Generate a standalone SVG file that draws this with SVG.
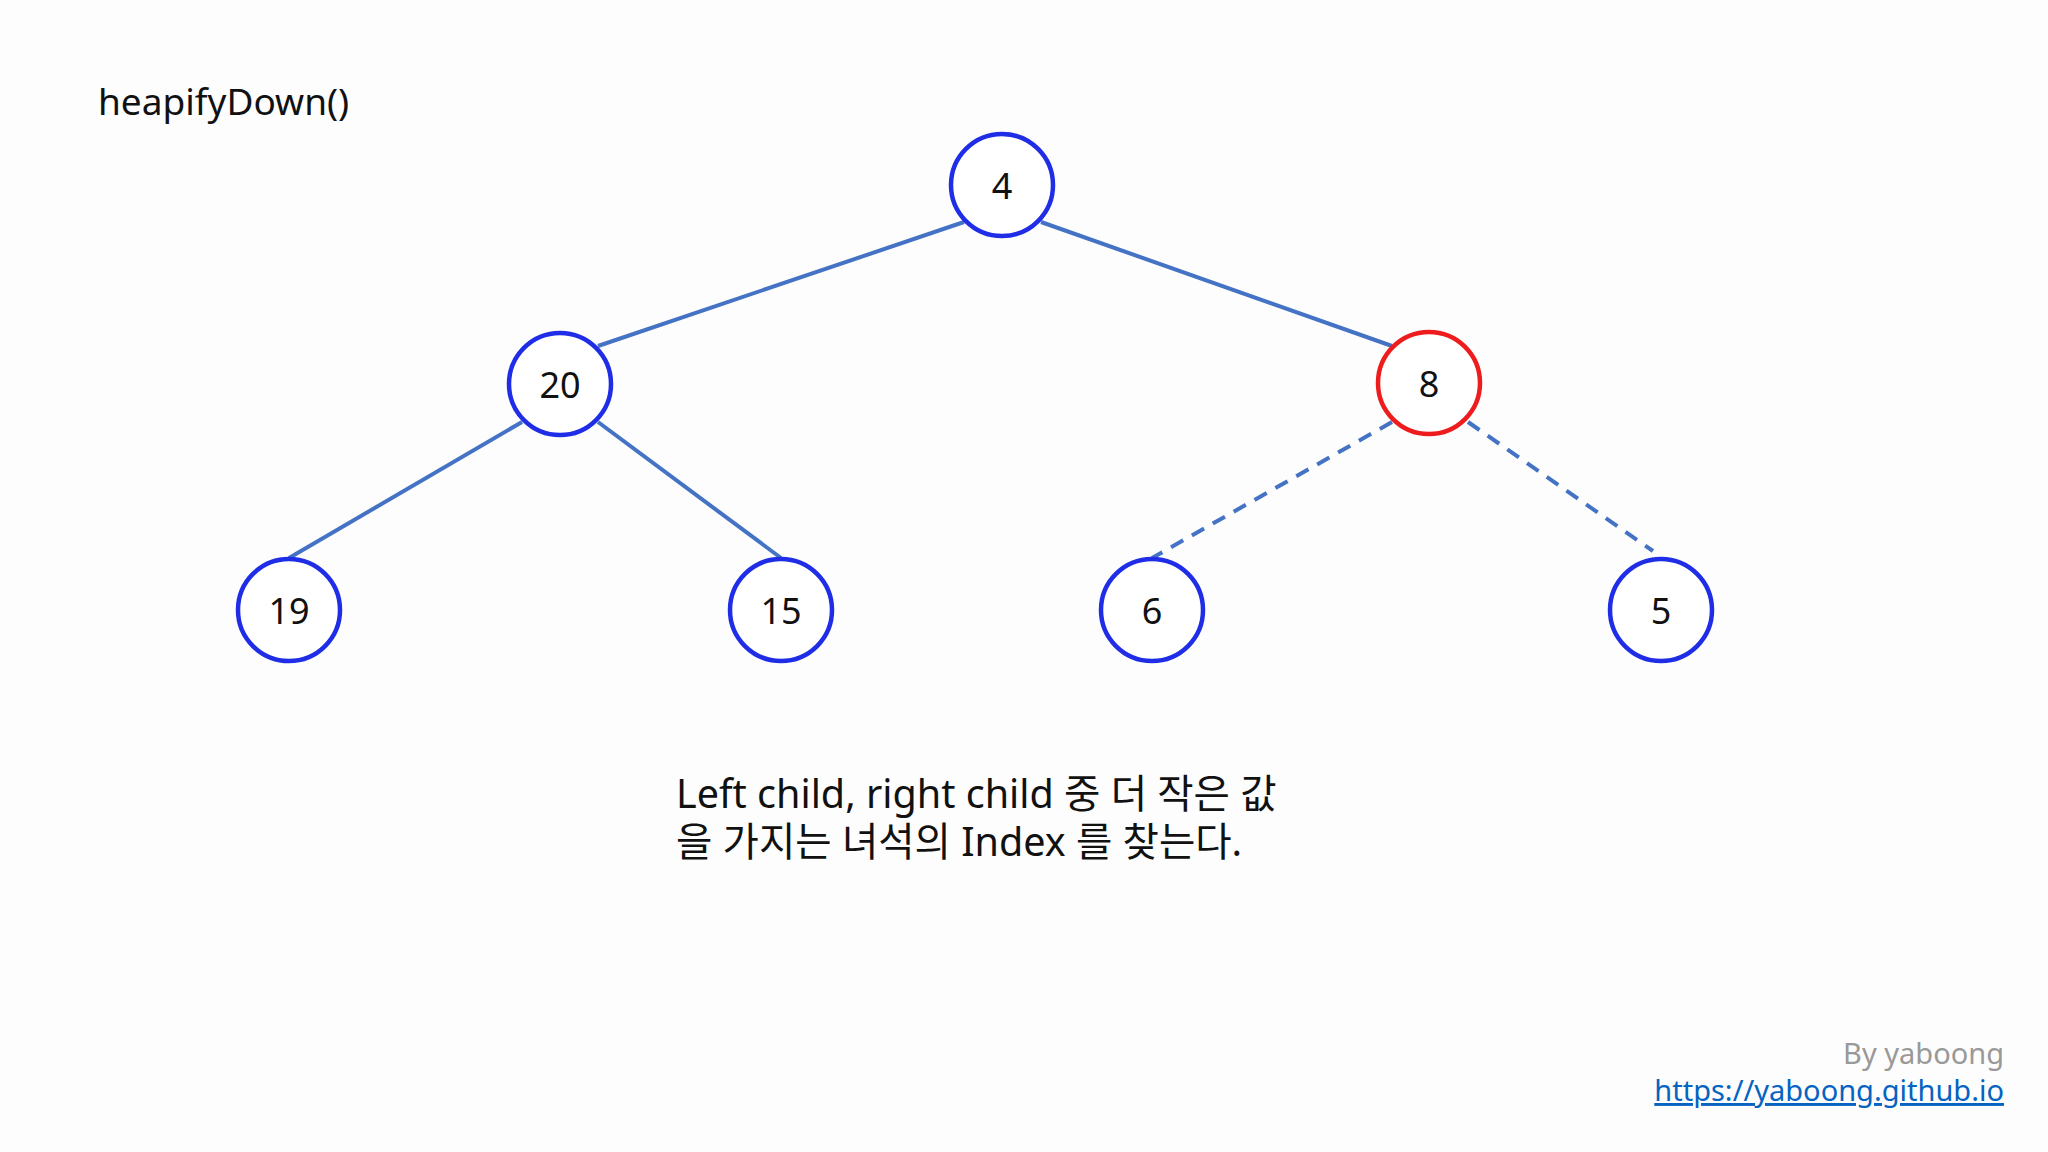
<svg xmlns="http://www.w3.org/2000/svg" width="2048" height="1152" viewBox="0 0 2048 1152">
<style>
.n{fill:#fff;stroke:#1f2ee6;stroke-width:4.5}
.r{stroke:#ee1c1c}
.t{font-family:"Noto Sans","Noto Sans CJK KR",sans-serif;font-size:36px;fill:#111;text-anchor:middle;dominant-baseline:central}
.e{stroke:#4472c4;stroke-width:4;fill:none}
.d{stroke-dasharray:14 10}
.c{font-family:"Noto Sans","Noto Sans CJK KR",sans-serif;font-size:39.5px;fill:#111}
</style>
<rect width="2048" height="1152" fill="#fdfdfd"/>
<text x="98" y="115" class="c" style="font-size:37px">heapifyDown()</text>
<g id="connectors">
<line class="e" x1="964" y1="222" x2="598" y2="346"/>
<line class="e" x1="1041" y1="222" x2="1392" y2="346"/>
<line class="e" x1="522" y1="422" x2="289" y2="558"/>
<line class="e" x1="598" y1="422" x2="781" y2="558"/>
<line class="e d" x1="1392" y1="422" x2="1152" y2="558"/>
<line class="e d" x1="1468" y1="422" x2="1653" y2="551"/>
</g>
<g id="n4"><circle class="n" cx="1002" cy="185" r="51"/><text class="t" x="1002" y="185">4</text></g>
<g id="n20"><circle class="n" cx="560" cy="384" r="51"/><text class="t" x="560" y="384">20</text></g>
<g id="n8"><circle class="n r" cx="1429" cy="383" r="51"/><text class="t" x="1429" y="383">8</text></g>
<g id="n19"><circle class="n" cx="289" cy="610" r="51"/><text class="t" x="289" y="610">19</text></g>
<g id="n15"><circle class="n" cx="781" cy="610" r="51"/><text class="t" x="781" y="610">15</text></g>
<g id="n6"><circle class="n" cx="1152" cy="610" r="51"/><text class="t" x="1152" y="610">6</text></g>
<g id="n5"><circle class="n" cx="1661" cy="610" r="51"/><text class="t" x="1661" y="610">5</text></g>
<text class="c" x="676" y="808">Left child, right child 중 더 작은 값</text>
<text class="c" x="676" y="856">을 가지는 녀석의 Index 를 찾는다.</text>
<text x="2004" y="1064" style="font-family:'Noto Sans',sans-serif;font-size:29px;fill:#999;text-anchor:end">By yaboong</text>
<text x="2004" y="1101" style="font-family:'Noto Sans',sans-serif;font-size:29px;fill:#0563c1;text-anchor:end;text-decoration:underline">https://yaboong.github.io</text>
</svg>
